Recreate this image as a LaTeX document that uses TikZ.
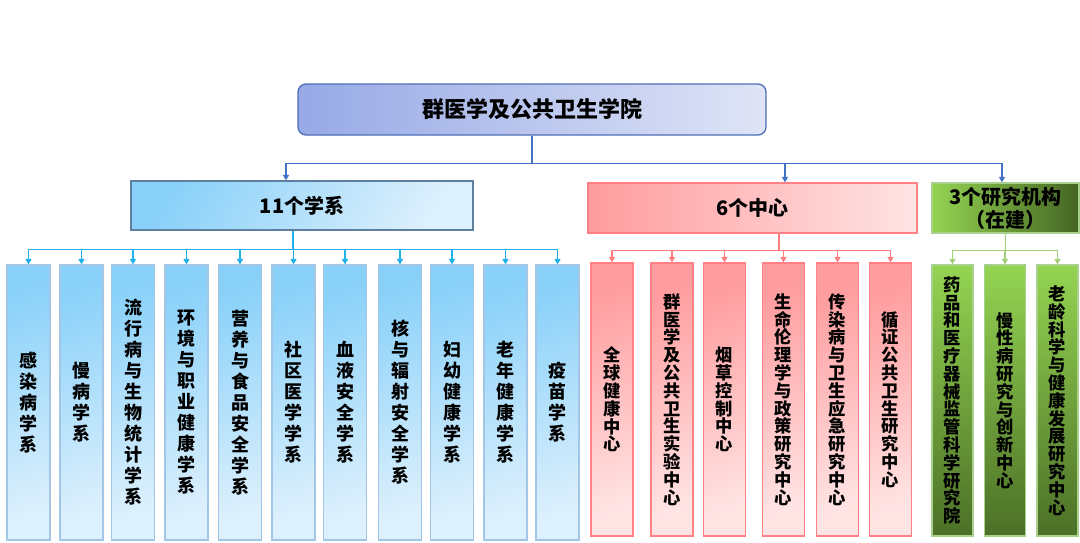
\documentclass[tikz,border=0pt]{standalone}
\usepackage{fontspec}
\usepackage{xcolor}
\usepackage{tikz}
\usetikzlibrary{arrows.meta, positioning}
\newfontfamily\cjk{Noto Sans CJK SC}

\definecolor{topL}{HTML}{97A9E6}
\definecolor{topR}{HTML}{DFE4F6}
\definecolor{topB}{HTML}{4E6FB5}
\definecolor{busTop}{HTML}{4472C4}
\definecolor{bluL}{HTML}{8AD1F9}
\definecolor{bluR}{HTML}{DDF0FD}
\definecolor{bluB}{HTML}{A3C6E6}
\definecolor{bluD}{HTML}{5F7F9F}
\definecolor{busBlu}{HTML}{1FB0EE}
\definecolor{redL}{HTML}{FF9C9E}
\definecolor{redR}{HTML}{FFE4E4}
\definecolor{redB}{HTML}{FF8085}
\definecolor{busRed}{HTML}{FF7C80}
\definecolor{grnL}{HTML}{94D452}
\definecolor{grnD}{HTML}{4C7027}
\definecolor{grnB}{HTML}{A9D18E}
\definecolor{busGrn}{HTML}{A3CF75}

\tikzset{
  head/.style={font=\cjk\bfseries\fontsize{22}{26}\selectfont, inner sep=0pt},
  group/.style={font=\cjk\bfseries\fontsize{20}{23}\selectfont, inner sep=0pt, align=center, line width=1.2pt},
  col/.style={inner sep=0pt, align=center, line width=1.2pt},
  bluecol/.style={col, font=\cjk\bfseries\fontsize{18}{21}\selectfont, draw=bluB, shading=axis, top color=bluL, bottom color=bluR, shading angle=20, minimum width=43pt, minimum height=275pt},
  redcol/.style={col, font=\cjk\bfseries\fontsize{17.3}{17.8}\selectfont, draw=redB, shading=axis, top color=redL, bottom color=redR, shading angle=20, minimum width=42pt, minimum height=273pt},
  greencol/.style={col, font=\cjk\bfseries\fontsize{17.3}{17.8}\selectfont, draw=grnB, top color=grnL, bottom color=grnD, minimum width=41pt, minimum height=271pt},
  link/.style={line width=1.3pt, -{Triangle[length=5.5pt,width=6pt]}},
}

\begin{document}
\begin{tikzpicture}[x=1pt, y=-1pt]
\useasboundingbox (0,0) rectangle (1080,542);

% top
\node[head, draw=topB, line width=1.3pt, rounded corners=8pt, left color=topL, right color=topR,
  minimum width=468pt, minimum height=51pt] (school) at (532,109.5) {群医学及公共卫生学院};

% groups
\node[group, draw=bluD, shading=axis, top color=bluL, bottom color=bluR, shading angle=60,
  minimum width=342pt, minimum height=49pt] (dept) at (302,205.5) {11个学系};
\node[group, draw=redB, left color=redL, right color=redR,
  minimum width=329pt, minimum height=50pt] (centre) at (752.5,208) {6个中心};
\node[group, draw=grnB, left color=grnL, right color=grnD!90!black,
  minimum width=147pt, minimum height=50pt] (inst) at (1005.5,208) {3个研究机构\\（在建）};

% departments
\node[bluecol] (d1) at (28.5,402.5) {感\\染\\病\\学\\系};
\node[bluecol] (d2) at (81.5,402.5) {慢\\病\\学\\系};
\node[bluecol] (d3) at (133,402.5) {流\\行\\病\\与\\生\\物\\统\\计\\学\\系};
\node[bluecol] (d4) at (186.5,402.5) {环\\境\\与\\职\\业\\健\\康\\学\\系};
\node[bluecol] (d5) at (240,402.5) {营\\养\\与\\食\\品\\安\\全\\学\\系};
\node[bluecol] (d6) at (293.5,402.5) {社\\区\\医\\学\\学\\系};
\node[bluecol] (d7) at (345,402.5) {血\\液\\安\\全\\学\\系};
\node[bluecol] (d8) at (400,402.5) {核\\与\\辐\\射\\安\\全\\学\\系};
\node[bluecol] (d9) at (452,402.5) {妇\\幼\\健\\康\\学\\系};
\node[bluecol] (d10) at (505.5,402.5) {老\\年\\健\\康\\学\\系};
\node[bluecol] (d11) at (557.5,402.5) {疫\\苗\\学\\系};

% centres
\node[redcol] (c1) at (612,399.5) {全\\球\\健\\康\\中\\心};
\node[redcol] (c2) at (672,399.5) {群\\医\\学\\及\\公\\共\\卫\\生\\实\\验\\中\\心};
\node[redcol] (c3) at (724.5,399.5) {烟\\草\\控\\制\\中\\心};
\node[redcol] (c4) at (783.5,399.5) {生\\命\\伦\\理\\学\\与\\政\\策\\研\\究\\中\\心};
\node[redcol] (c5) at (837.5,399.5) {传\\染\\病\\与\\卫\\生\\应\\急\\研\\究\\中\\心};
\node[redcol] (c6) at (890.5,399.5) {循\\证\\公\\共\\卫\\生\\研\\究\\中\\心};

% institutes
\node[greencol] (i1) at (952.5,400.5) {药\\品\\和\\医\\疗\\器\\械\\监\\管\\科\\学\\研\\究\\院};
\node[greencol] (i2) at (1005,400.5) {慢\\性\\病\\研\\究\\与\\创\\新\\中\\心};
\node[greencol] (i3) at (1057.5,400.5) {老\\龄\\科\\学\\与\\健\\康\\发\\展\\研\\究\\中\\心};

% links
\draw[busTop, line width=1.3pt] (school.south) -- ++(0,28) coordinate (hub);
\draw[link, busTop] (hub) -| ([xshift=-16pt]dept.north);
\draw[link, busTop] (hub) -| ([xshift=32.5pt]centre.north);
\draw[link, busTop] (hub) -| ([xshift=-3.5pt]inst.north);

\draw[busBlu, line width=1.3pt] ([xshift=-9pt]dept.south) -- ++(0,19) coordinate (dbus);
\foreach \n in {d1,d2,d3,d4,d5,d6,d7,d8,d9,d10,d11}
  \draw[link, busBlu] (dbus) -| (\n.north);

\draw[busRed, line width=1.3pt] ([xshift=26.5pt]centre.south) -- ++(0,17) coordinate (cbus);
\foreach \n in {c1,c2,c3,c4,c5,c6}
  \draw[link, busRed] (cbus) -| (\n.north);

\draw[busGrn, line width=1.3pt] (inst.south) -- ++(0,17) coordinate (ibus);
\foreach \n in {i1,i2,i3}
  \draw[link, busGrn] (ibus) -| (\n.north);
\end{tikzpicture}
\end{document}
